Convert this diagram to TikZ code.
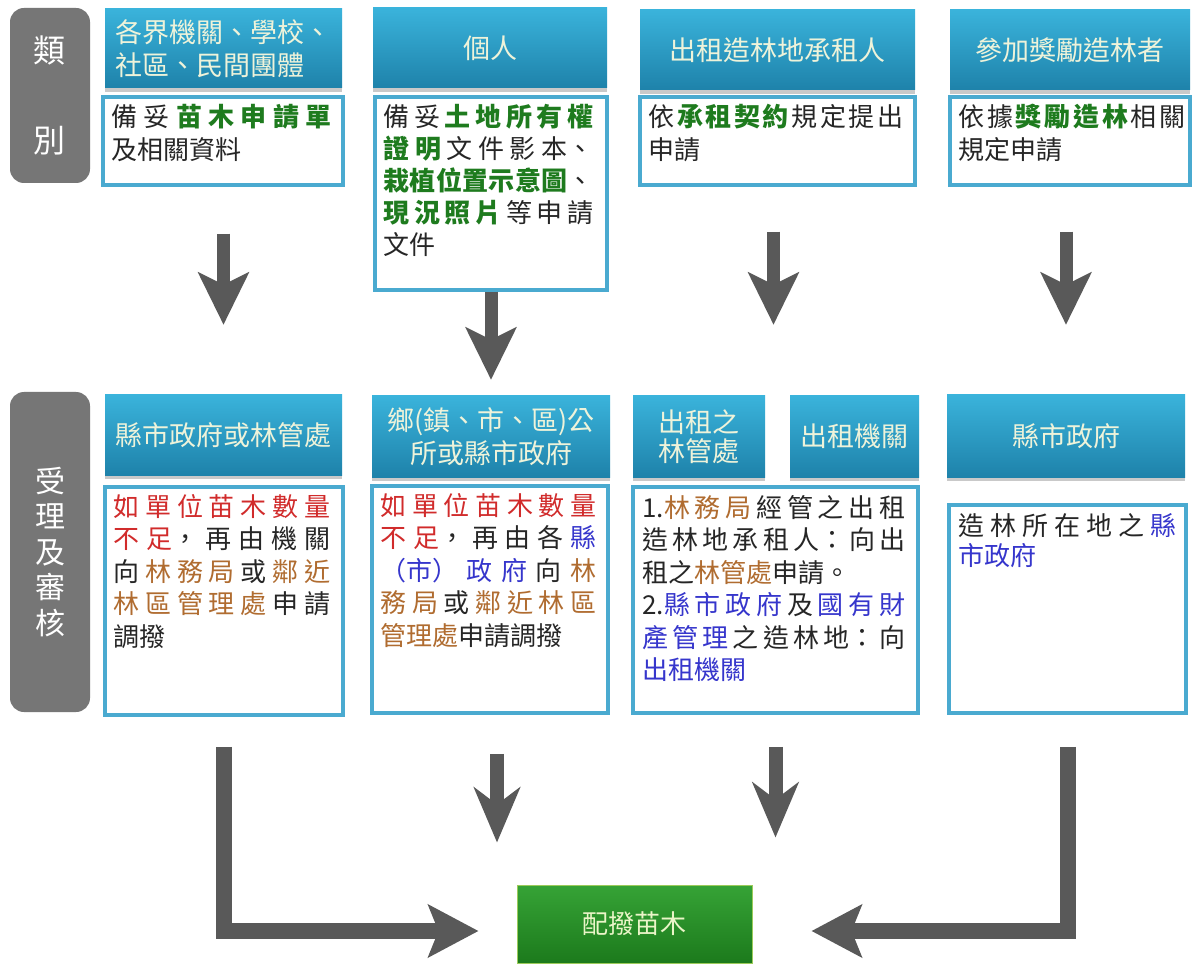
\documentclass[tikz,border=0pt]{standalone}
\usepackage{fontspec}
\setmainfont{Noto Sans CJK TC}
\usetikzlibrary{arrows.meta,shadows}
\XeTeXlinebreaklocale "zh"
\XeTeXlinebreakskip=0pt plus 30pt\relax
\definecolor{hdrtop}{HTML}{3AB3DB}
\definecolor{hdrbot}{HTML}{1E82AA}
\definecolor{hdrtext}{HTML}{EEF3DA}
\definecolor{bordc}{HTML}{4AAAD0}
\definecolor{graybox}{HTML}{767676}
\definecolor{arrgray}{HTML}{595959}
\definecolor{tgreen}{HTML}{1E7B1E}
\definecolor{tred}{HTML}{D12B2B}
\definecolor{tbrown}{HTML}{B06C30}
\definecolor{tblue}{HTML}{3636CC}
\definecolor{txt}{HTML}{262626}
\definecolor{grtop}{HTML}{36A336}
\definecolor{grbot}{HTML}{1C7A1C}
\definecolor{grtext}{HTML}{EAF5C8}
\definecolor{grborder}{HTML}{9CCB5A}
\newcommand\jsk{\hskip 0pt plus 30pt\relax}
\newcommand\GRN[1]{{\bfseries\color{tgreen}#1}}
\newcommand\RED[1]{{\color{tred}#1}}
\newcommand\BRN[1]{{\color{tbrown}#1}}
\newcommand\BLU[1]{{\color{tblue}#1}}
\newcommand\hdrfont{\fontsize{27}{33}\selectfont}
\newcommand\bodyfont{\fontsize{26}{32.5}\selectfont}
\tikzset{
  hdr/.style={top color=hdrtop, bottom color=hdrbot, draw=none, text=hdrtext,
    font=\hdrfont, align=center, inner sep=0pt,
    drop shadow={shadow xshift=0pt, shadow yshift=-4pt, opacity=0.35, fill=black!60}},
  bodybox/.style={draw=bordc, line width=3.5pt, fill=white, inner sep=0pt},
  btext/.style={anchor=north west, inner sep=0pt, align=justify, font=\bodyfont, text=txt},
  graylbl/.style={fill=graybox, rounded corners=14pt, draw=none, text=white, align=center, inner sep=0pt},
  greenbox/.style={top color=grtop, bottom color=grbot, draw=grborder, line width=1pt,
    text=grtext, font=\fontsize{26}{30}\selectfont, inner sep=0pt},
  arrA/.style={draw=arrgray, line width=13pt, -{Stealth[length=52pt,width=50pt,inset=12pt]}},
  arrB/.style={draw=arrgray, line width=14pt, -{Stealth[length=55pt,width=46pt,inset=17pt]}},
  arrL/.style={draw=arrgray, line width=16pt, -{Stealth[length=50pt,width=52pt,inset=10pt]}},
}
\begin{document}
\begin{tikzpicture}[x=1pt,y=-1pt]
\useasboundingbox (0,0) rectangle (1197,965);
\fill[white] (0,0) rectangle (1197,965);

% gray labels
\node[graylbl, minimum width=80pt, minimum height=175pt, font=\fontsize{32}{90}\selectfont] (g1) at (50,95.5) {類\\別};
\node[graylbl, minimum width=80pt, minimum height=320pt, font=\fontsize{30}{35.5}\selectfont] (g2) at (50,552) {受\\理\\及\\審\\核};

% row 1 headers
\node[hdr, minimum width=237pt, minimum height=79pt, align=left] (h1) at (223.5,48.5) {各界機關、學校、\\社區、民間團體};
\node[hdr, minimum width=234pt, minimum height=80pt] (h2) at (490,48) {個人};
\node[hdr, minimum width=275pt, minimum height=80pt] (h3) at (777.5,50) {出租造林地承租人};
\node[hdr, minimum width=240pt, minimum height=80pt] (h4) at (1070,50) {參加獎勵造林者};

% row 1 bodies
\node[bodybox, minimum width=240pt, minimum height=88pt] (b1) at (223,141) {};
\node[bodybox, minimum width=232pt, minimum height=193pt] (b2) at (491,193.5) {};
\node[bodybox, minimum width=275pt, minimum height=88pt] (b3) at (777.5,141) {};
\node[bodybox, minimum width=240pt, minimum height=88pt] (b4) at (1070,141) {};

\node[btext, text width=220pt] (t1) at ([xshift=10pt,yshift=-9pt]b1.north west)
  {備妥\jsk\GRN{苗木申請單}\linebreak 及相關資料};
\node[btext, text width=210pt, font=\fontsize{26}{32}\selectfont] (t2) at ([xshift=10pt,yshift=-9pt]b2.north west)
  {備妥\jsk\GRN{土地所有權}\linebreak \GRN{證明}\jsk 文件影本、\linebreak \GRN{栽植位置示意圖}、\linebreak \GRN{現況照片}\jsk 等申請\linebreak 文件};
\node[btext, text width=255pt] (t3) at ([xshift=10pt,yshift=-9pt]b3.north west)
  {依\jsk\GRN{承租契約}\jsk 規定提出\linebreak 申請};
\node[btext, text width=227pt] (t4) at ([xshift=10pt,yshift=-9pt]b4.north west)
  {依據\jsk\GRN{獎勵造林}\jsk 相關\linebreak 規定申請};

% row 2 headers
\node[hdr, minimum width=237pt, minimum height=80pt] (h5) at (223.5,435) {縣市政府或林管處};
\node[hdr, minimum width=238pt, minimum height=81pt] (h6) at (491,436.5) {鄉(鎮、市、區)公\\所或縣市政府};
\node[hdr, minimum width=132pt, minimum height=81pt, font=\fontsize{27}{29}\selectfont] (h7a) at (699,436.5) {出租之\\林管處};
\node[hdr, minimum width=129pt, minimum height=81pt] (h7b) at (854.5,436.5) {出租機關};
\node[hdr, minimum width=238pt, minimum height=82pt] (h8) at (1066,436) {縣市政府};

% row 2 bodies
\node[bodybox, minimum width=238pt, minimum height=228pt] (b5) at (224,601) {};
\node[bodybox, minimum width=236pt, minimum height=227pt] (b6) at (490,599.5) {};
\node[bodybox, minimum width=285pt, minimum height=226pt] (b7) at (775.5,600) {};
\node[bodybox, minimum width=237pt, minimum height=208pt] (b8) at (1067.5,609) {};

\node[btext, text width=217pt] (t5) at ([xshift=10pt,yshift=-9pt]b5.north west)
  {\RED{如單位苗木數量}\linebreak \RED{不足}，再由機關\linebreak 向\jsk\BRN{林務局}\jsk 或\jsk\BRN{鄰近}\linebreak \BRN{林區管理處}\jsk 申請\linebreak 調撥};
\node[btext, text width=216pt] (t6) at ([xshift=10pt,yshift=-9pt]b6.north west)
  {\RED{如單位苗木數量}\linebreak \RED{不足}，再由各\jsk\BLU{縣}\linebreak \BLU{（市）政府}\jsk 向\jsk\BRN{林}\linebreak \BRN{務局}\jsk 或\jsk\BRN{鄰近林區}\linebreak \BRN{管理處}\jsk 申請調撥};
\node[btext, text width=263pt] (t7) at ([xshift=11pt,yshift=-10pt]b7.north west)
  {1.\BRN{林務局}\jsk 經管之出租\linebreak 造林地承租人：向出\linebreak 租之\jsk\BRN{林管處}\jsk 申請。\par
   2.\BLU{縣市政府}\jsk 及\jsk\BLU{國有財}\linebreak \BLU{產管理}\jsk 之造林地：向\linebreak \BLU{出租機關}};
\node[btext, text width=218pt, font=\fontsize{26}{30}\selectfont] (t8) at ([xshift=11pt,yshift=-10pt]b8.north west)
  {造林所在地之\jsk\BLU{縣}\linebreak \BLU{市政府}};

% green target
\node[greenbox, minimum width=235pt, minimum height=78pt] (green) at (634.5,924) {配撥苗木};

% arrows row 1 -> row 2
\draw[arrA, shorten <=47pt, shorten >=70pt] (b1.south -| h5.north) -- (h5.north);
\draw[arrA, shorten <=0pt, shorten >=16pt] (b2.south -| h6.north) -- (h6.north);
\draw[arrA, shorten <=45pt, shorten >=71pt] ([xshift=-4pt]b3.south) -- ([xshift=-4pt]b3.south |- h7a.north);
\draw[arrA, shorten <=45pt, shorten >=70pt] (b4.south -| h8.north) -- (h8.north);

% arrows row 2 -> green
\draw[arrL, shorten <=30pt, shorten >=38pt] (b5.south) |- ([yshift=-7pt]green.west);
\draw[arrB, shorten <=39pt, shorten >=42pt] ([xshift=7pt]b6.south) -- ([xshift=7pt]b6.south |- green.north);
\draw[arrB, shorten <=32pt, shorten >=47pt] (b7.south) -- (b7.south |- green.north);
\draw[arrL, shorten <=32pt, shorten >=59pt] (b8.south) |- ([yshift=-7pt]green.east);
\end{tikzpicture}
\end{document}
